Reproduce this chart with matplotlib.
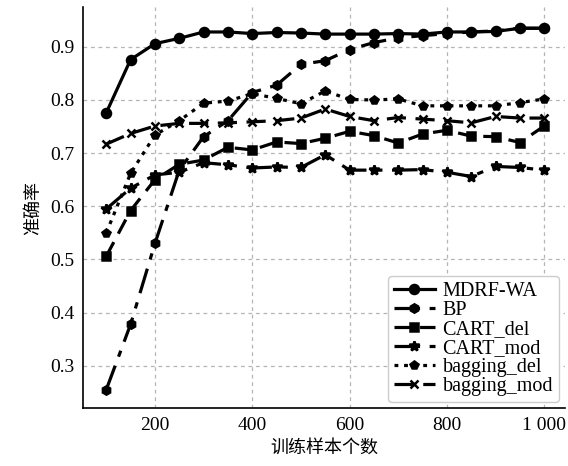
import matplotlib
matplotlib.use('Agg')
from matplotlib import pyplot as plt

x = [100, 150, 200, 250, 300, 350, 400, 450, 500, 550, 600, 650, 700, 750, 800, 850, 900, 950, 1000]

mdrf_wa = [0.776, 0.876, 0.906, 0.916, 0.928, 0.928, 0.925, 0.927, 0.926, 0.924, 0.924, 0.924,
           0.925, 0.924, 0.928, 0.928, 0.929, 0.935, 0.935]
bp = [0.255, 0.378, 0.530, 0.668, 0.731, 0.761, 0.814, 0.828, 0.867, 0.874, 0.895, 0.908,
      0.917, 0.921, 0.925, 0.928, 0.930, 0.935, 0.935]
cart_del = [0.506, 0.592, 0.650, 0.679, 0.687, 0.711, 0.706, 0.721, 0.718, 0.728, 0.741, 0.733,
            0.719, 0.736, 0.743, 0.732, 0.731, 0.720, 0.751]
cart_mod = [0.595, 0.634, 0.659, 0.664, 0.682, 0.678, 0.672, 0.674, 0.673, 0.697, 0.668, 0.668,
            0.668, 0.669, 0.664, 0.656, 0.675, 0.673, 0.668]
bagging_del = [0.550, 0.662, 0.734, 0.761, 0.794, 0.798, 0.812, 0.803, 0.793, 0.817, 0.801, 0.800,
               0.802, 0.789, 0.789, 0.789, 0.789, 0.795, 0.802]
bagging_mod = [0.717, 0.737, 0.751, 0.756, 0.756, 0.757, 0.759, 0.761, 0.766, 0.783, 0.769, 0.761,
               0.767, 0.764, 0.761, 0.757, 0.769, 0.766, 0.766]

labels = ['MDRF-WA', 'BP', 'CART_del', 'CART_mod', 'bagging_del', 'bagging_mod']
xticks = [200, 400, 600, 800, 1000]
xticklabels = ['200', '400', '600', '800', '1 000']
yticks = [0.3, 0.4, 0.5, 0.6, 0.7, 0.8, 0.9]

serif = ['Liberation Serif', 'DejaVu Serif']
cjk = ['Noto Sans CJK SC', 'DejaVu Sans']
plt.rcParams['font.family'] = serif

fig = plt.figure(figsize=(5.68, 4.66), dpi=100)
ax = fig.add_axes([0.146, 0.124, 0.849, 0.861])

series = [mdrf_wa, bp, cart_del, cart_mod, bagging_del, bagging_mod]
# (linestyle, marker, markersize)
styles = [('-', 'o', 6.5), ((0, (8, 3, 2, 3)), 'h', 6), ((0, (5, 3)), 's', 6),
          ((0, (8, 3, 2, 3)), '*', 7), ((0, (1.2, 1.8)), 'p', 6), ((0, (6, 3)), 'x', 6)]
for ys, (ls, mk, ms), lab in zip(series, styles, labels):
    ax.plot(x, ys, linestyle=ls, marker=mk, color='black', lw=2.3,
            markersize=ms, mew=1.8, label=lab)

ax.set_xlim(52, 1043)
ax.set_ylim(0.22, 0.975)
ax.set_xticks(xticks)
ax.set_xticklabels(xticklabels)
ax.set_yticks(yticks)
ax.tick_params(labelsize=14, length=0, pad=6)
ax.grid(True, linestyle=(0, (3, 3)), color='#b5b5b5', lw=0.9)
for s in ['top', 'right']:
    ax.spines[s].set_visible(False)
ax.spines['left'].set_linewidth(1.2)
ax.spines['bottom'].set_linewidth(1.2)

ax.set_xlabel('训练样本个数', family=cjk, fontsize=13, labelpad=4)
ax.set_ylabel('准确率', family=cjk, fontsize=13, labelpad=6)

ax.legend(loc='lower right', fontsize=14.5, handlelength=2.0, labelspacing=0.0,
          handletextpad=0.4, borderpad=0.3, borderaxespad=0.3, framealpha=1,
          edgecolor='#cccccc', fancybox=True)

fig.savefig('out.png', dpi=100)
